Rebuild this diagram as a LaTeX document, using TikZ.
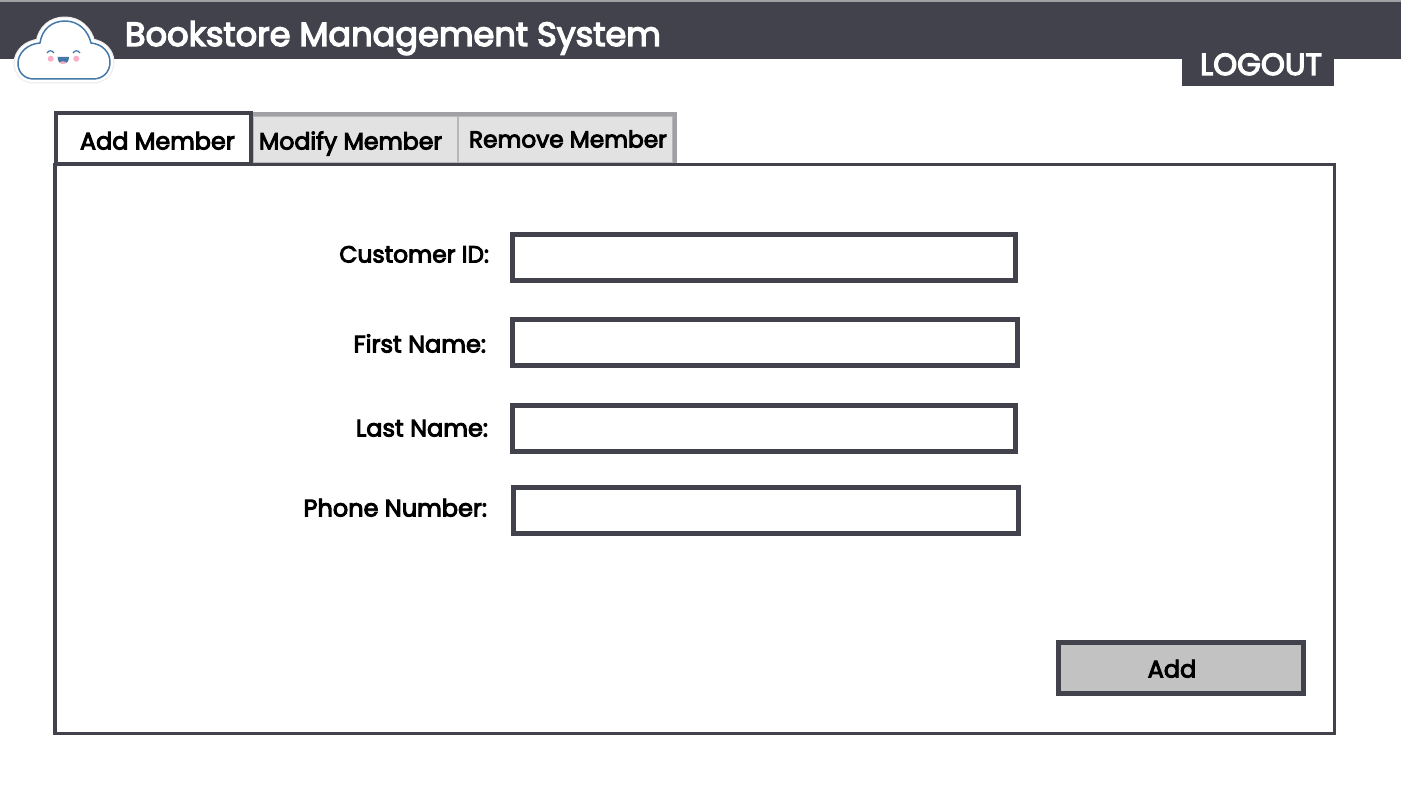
\documentclass[tikz,border=0pt]{standalone}
\usepackage{fontspec}
\setmainfont{Poppins}[RawFeature={embolden=4}]
\definecolor{slate}{HTML}{42424C}
\definecolor{tabgrey}{HTML}{E2E2E2}
\definecolor{tabframe}{HTML}{A0A0A5}
\definecolor{tabedge}{HTML}{B8B8B8}
\definecolor{btn}{HTML}{C2C2C2}
\definecolor{cloudblue}{HTML}{4478A8}
\definecolor{cheek}{HTML}{F9AFC8}
\newcommand{\fs}[1]{\fontsize{#1}{#1}\selectfont}
\tikzset{
 x=1pt,y=-1pt,
 every node/.style={outer sep=0pt},
 field/.style={draw=slate,line width=5pt,fill=white,anchor=north west,inner sep=0pt},
 lbl/.style={anchor=base east,inner sep=0pt,text=black},
 tablbl/.style={anchor=base west,inner sep=0pt,text=black},
 tabbox/.style={draw=tabedge,line width=1pt,fill=tabgrey,anchor=north west,inner sep=0pt},
 cloudpath/.style={line join=round},
}
\def\cloudshape{(34,79) .. controls (24,79) and (18,72) .. (18,63.5) .. controls (18,53) and (27,44) .. (40,43) .. controls (42,29) and (52,21) .. (65,21) .. controls (78,21) and (88,30) .. (91,43) .. controls (102,44) and (110,52) .. (110,62) .. controls (110,72) and (103,79) .. (93,79) -- cycle}
\begin{document}
\begin{tikzpicture}
\useasboundingbox (0,0) rectangle (1401,789);
\fill[white] (0,0) rectangle (1401,789);
% header
\fill[tabframe] (0,0) rectangle (1401,2);
\node[fill=slate,anchor=north west,minimum width=1401pt,minimum height=57pt,inner sep=0pt] (header) at (0,2) {};
\node[fill=slate,anchor=north west,minimum width=152pt,minimum height=27pt,inner sep=0pt] (logoutbox) at (1182,59) {};
\node[anchor=base,inner sep=0pt,text=white,font=\fs{30.5}] (logout) at (1261,75) {LOGOUT};
\node[anchor=base west,inner sep=0pt,text=white,font=\fs{33.6}] (title) at (125,46) {Bookstore Management System};
% cloud
\draw[black!7,line width=9pt,cloudpath] \cloudshape;
\draw[white,line width=6.5pt,cloudpath] \cloudshape;
\draw[cloudblue,line width=1.5pt,fill=white,cloudpath] \cloudshape;
\draw[cloudblue,line width=1.2pt] (47,53) .. controls (49,50) and (52,50) .. (54,53);
\draw[cloudblue,line width=1.2pt] (73,53) .. controls (75,50) and (78,50) .. (80,53);
\fill[cheek] (50.7,58.7) circle (3);
\fill[cheek] (76.3,58.7) circle (3);
\fill[cloudblue] (57.5,57) -- (69,57) .. controls (69,62) and (66,64) .. (63,64) .. controls (60,64) and (58,62) .. (57.5,57) -- cycle;
\fill[cheek] (60,62.5) .. controls (61,61) and (65,61) .. (66,62.5) .. controls (65,64.5) and (61,64.5) .. (60,62.5) -- cycle;
% main panel
\node[draw=slate,line width=3.7pt,fill=white,anchor=north west,minimum width=1279.5pt,minimum height=569pt,inner sep=0pt] (panel) at (55,164.5) {};
% tabs
\fill[tabframe] (253,112) rectangle (677,163);
\node[tabbox,minimum width=204pt,minimum height=46pt] (tabmodify) at (253.5,116.5) {};
\node[tabbox,minimum width=214pt,minimum height=46pt] (tabremove) at (458.5,116.5) {};
\node[draw=slate,line width=4pt,fill=white,anchor=north west,minimum width=195.5pt,minimum height=51pt,inner sep=0pt] (tabadd) at (55.5,113.5) {};
\node[tablbl,font=\fs{23.9}] (addlbl) at (80,149.5) {Add Member};
\node[tablbl,font=\fs{23.6}] (modlbl) at (259,149.5) {Modify Member};
\node[tablbl,font=\fs{23.2}] (remlbl) at (469,147.5) {Remove Member};
% form
\node[field,minimum width=503pt,minimum height=46pt] (f1) at (512.5,234.5) {};
\node[field,minimum width=505pt,minimum height=46pt] (f2) at (512.5,319.5) {};
\node[field,minimum width=503pt,minimum height=46pt] (f3) at (512.5,405.5) {};
\node[field,minimum width=505pt,minimum height=46pt] (f4) at (513.5,487.5) {};
\node[lbl,font=\fs{23.4}] (l1) at (489,262.5) {Customer ID:};
\node[lbl,font=\fs{24}] (l2) at (486,352.5) {First Name:};
\node[lbl,font=\fs{24}] (l3) at (488,436.5) {Last Name:};
\node[lbl,font=\fs{24}] (l4) at (487,516.5) {Phone Number:};
% button
\node[draw=slate,line width=5pt,fill=btn,anchor=north west,minimum width=245pt,minimum height=51pt,inner sep=0pt] (addbtn) at (1058.5,642.5) {};
\node[anchor=base,inner sep=0pt,text=black,font=\fs{24}] (addtxt) at (1172,677.5) {Add};
\end{tikzpicture}
\end{document}
